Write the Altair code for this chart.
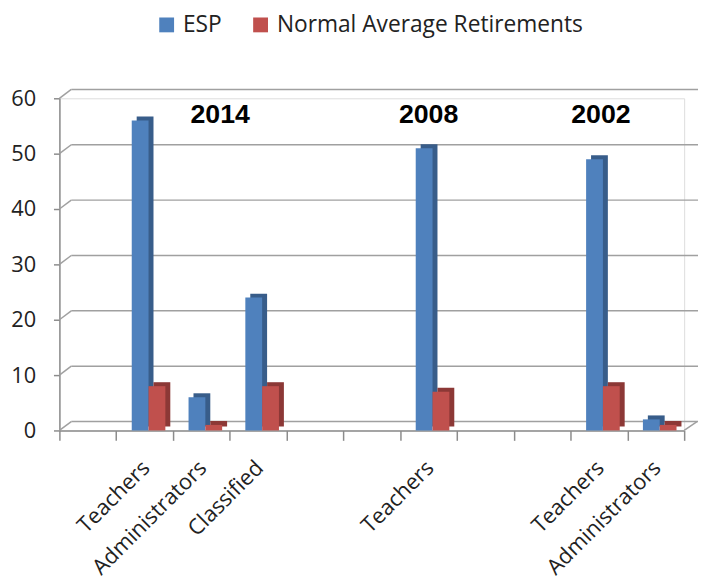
import altair as alt
import pandas as pd

# ---- data ----
slot_ids = [str(i) for i in range(11)]
slot_labels = ["", "Teachers", "Administrators", "Classified", "", "", "Teachers", "", "", "Teachers", "Administrators"]
bar_slots = ["1", "2", "3", "6", "9", "10"]
esp = [56, 6, 24, 51, 49, 2]
normal = [8, 1, 8, 7, 8, 1]
series_names = ["ESP", "Normal Average Retirements"]
years = ["2014", "2008", "2002"]
year_slots = ["2", "6", "9"]
y_ticks = [0, 10, 20, 30, 40, 50, 60]

BLUE, RED = "#4F81BD", "#C0504D"
BLUE_D, RED_D = "#385D8A", "#8C3836"
W, H = 632, 336

rows = []
for s, a, b in zip(bar_slots, esp, normal):
    rows.append({"slot": s, "series": series_names[0], "value": a})
    rows.append({"slot": s, "series": series_names[1], "value": b})
df = pd.DataFrame(rows)
grid_df = pd.DataFrame({"v": y_ticks})

label_arr = "[" + ",".join("'" + l + "'" for l in slot_labels) + "]"

xscale = alt.Scale(domain=slot_ids, paddingInner=0, paddingOuter=0)
yscale = alt.Scale(domain=[0, 60], nice=False)

x_enc = alt.X("slot:N", scale=xscale, sort=slot_ids, title=None,
              axis=alt.Axis(labelExpr=label_arr + "[toNumber(datum.value)]",
                            labelAngle=-45, labelAlign="right", labelBaseline="middle",
                            labelFont="Open Sans", labelFontSize=22, labelColor="#222",
                            labelPadding=24, labelOffset=1, tickBand="extent", tickSize=10,
                            tickColor="#8c8c8c", tickWidth=1.5, domainColor="#8c8c8c",
                            domainWidth=1.5, labelOverlap=False, labelLimit=0))
y_enc = alt.Y("value:Q", scale=yscale, title=None,
              axis=alt.Axis(values=y_ticks, grid=False, labelFont="Open Sans",
                            labelFontSize=22, labelColor="#222", labelPadding=18,
                            tickSize=6, tickColor="#8c8c8c", tickWidth=1.5,
                            domainColor="#8c8c8c", domainWidth=1.5))

base = alt.Chart(df)

# back-wall gridlines
grid = alt.Chart(grid_df).mark_rule(color="#a0a0a0", strokeWidth=1.5, yOffset=-9).encode(
    y=alt.Y("v:Q", scale=yscale), x=alt.value(12), x2=alt.value(W + 14))
# diagonal connectors from the front axis to the back wall
conn = alt.Chart(grid_df).mark_rule(color="#a0a0a0", strokeWidth=1.5, y2Offset=-9).encode(
    y=alt.Y("v:Q", scale=yscale), y2=alt.Y2("v:Q"), x=alt.value(0), x2=alt.value(12))
floor_r = alt.Chart(pd.DataFrame({"v": [0]})).mark_rule(color="#a0a0a0", strokeWidth=1.5, y2Offset=-9).encode(
    y=alt.Y("v:Q", scale=yscale), y2=alt.Y2("v:Q"), x=alt.value(W), x2=alt.value(W + 13))

layers = [grid, conn, floor_r]
bw = alt.RelativeBandSize(0.296)
for name, off, dark in [(series_names[0], -4.5, BLUE_D), (series_names[1], 12.5, RED_D)]:
    layers.append(base.transform_filter(alt.datum.series == name).mark_bar(
        width=bw, xOffset=off + 5, yOffset=-4, y2Offset=-4, color=dark).encode(x=x_enc, y=y_enc))
for name, off in [(series_names[0], -4.5), (series_names[1], 12.5)]:
    layers.append(base.transform_filter(alt.datum.series == name).mark_bar(
        width=bw, xOffset=off).encode(
        x=x_enc, y=y_enc,
        color=alt.Color("series:N", scale=alt.Scale(domain=series_names, range=[BLUE, RED]),
                        legend=alt.Legend(title=None, orient="none", direction="horizontal",
                                          legendX=97, legendY=-86, symbolType="square",
                                          symbolSize=225, symbolStrokeWidth=0,
                                          labelFont="Open Sans", labelFontSize=23,
                                          labelColor="#222", labelOffset=5, labelLimit=0,
                                          columnPadding=27, padding=0))))

for yr, sl, dx in zip(years, year_slots, [19, 0, 2]):
    layers.append(alt.Chart(pd.DataFrame({"year": [yr], "slot": [sl]})).mark_text(
        font="Liberation Sans", fontWeight="bold", fontSize=27, color="#000",
        baseline="middle", align="center", dx=dx).encode(
        x=alt.X("slot:N", scale=xscale, sort=slot_ids),
        y=alt.Y(datum=57, scale=yscale), text="year:N"))

chart = alt.layer(*layers).properties(
    width=W, height=H,
    autosize=alt.AutoSizeParams(type="none"),
    padding={"left": 52, "top": 88, "right": 14, "bottom": 154},
).configure_view(stroke=None).configure(background="white")

chart.save("out.html", embed_options={"renderer": "svg", "actions": False})
